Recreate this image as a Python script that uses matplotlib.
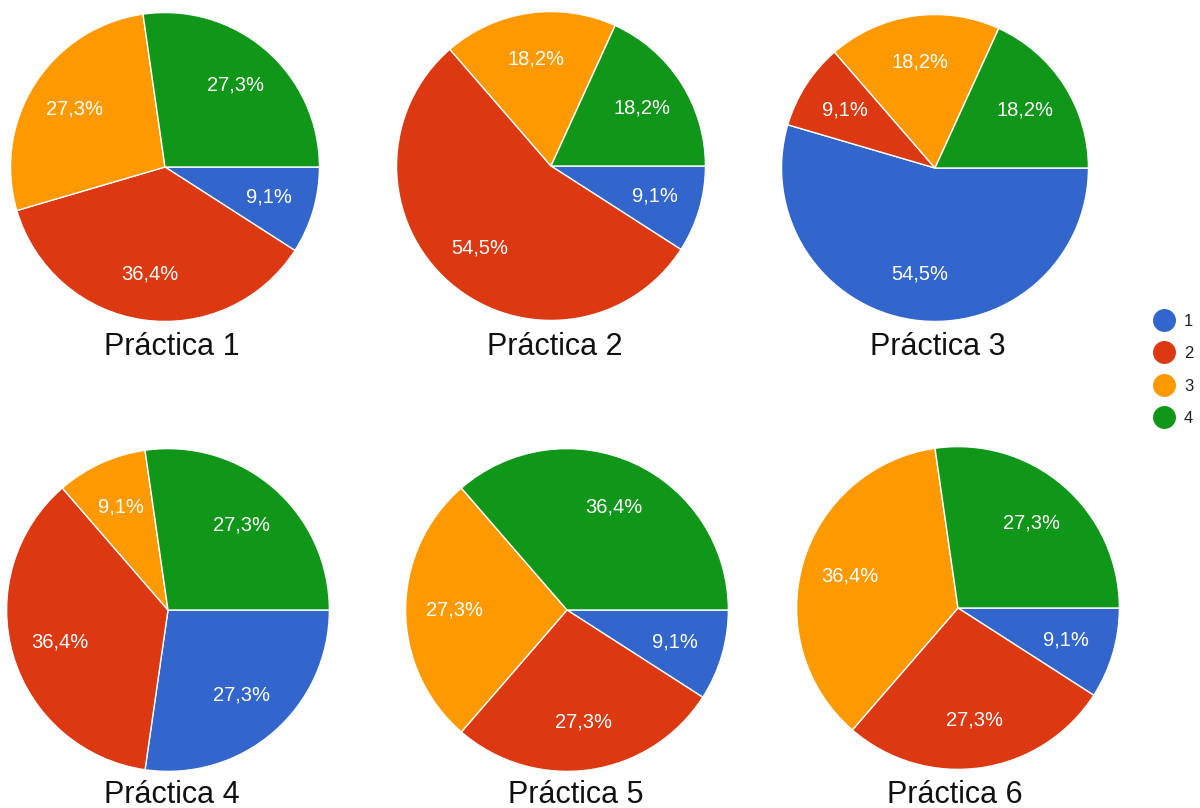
import matplotlib.pyplot as plt
from matplotlib.lines import Line2D

plt.rcParams['font.family'] = ['Liberation Sans', 'DejaVu Sans']

# Respuestas por práctica (11 alumnos), categorías 1-4
categorias = ['1', '2', '3', '4']
practica_1 = [1, 4, 3, 3]
practica_2 = [1, 6, 2, 2]
practica_3 = [6, 1, 2, 2]
practica_4 = [3, 4, 1, 3]
practica_5 = [1, 3, 3, 4]
practica_6 = [1, 3, 4, 3]
titulos = ['Práctica 1', 'Práctica 2', 'Práctica 3',
           'Práctica 4', 'Práctica 5', 'Práctica 6']
colores = ['#3366cc', '#dc3912', '#ff9900', '#109618']

W, H = 1200, 808
fig = plt.figure(figsize=(W / 100, H / 100), dpi=100)

# centro (x, y) y radio de cada tarta en píxeles, posición del título
pies = [
    (practica_1, (165, 167, 156), (172, 355)),
    (practica_2, (551, 166, 156), (555, 355)),
    (practica_3, (935, 168, 155), (938, 355)),
    (practica_4, (168, 610, 163), (172, 803)),
    (practica_5, (567, 610, 163), (576, 803)),
    (practica_6, (958, 608, 163), (955, 803)),
]


def etiqueta(p):
    return f'{p:.1f}%'.replace('.', ',')


for (datos, (cx, cy, r), (tx, ty)), titulo in zip(pies, titulos):
    ax = fig.add_axes([(cx - r) / W, 1 - (cy + r) / H, 2 * r / W, 2 * r / H])
    ax.pie(datos, colors=colores, startangle=0, counterclock=False,
           autopct=etiqueta, pctdistance=0.7,
           wedgeprops=dict(edgecolor='white', linewidth=1),
           textprops=dict(color='white', fontsize=14.5))
    ax.set_xlim(-1.01, 1.01)
    ax.set_ylim(-1.01, 1.01)
    ax.set_aspect('equal')
    ax.axis('off')
    fig.text(tx / W, 1 - ty / H, titulo, ha='center', va='baseline',
             fontsize=22, color='#111111')

# leyenda
handles = [Line2D([], [], marker='o', linestyle='', markersize=15.5,
                  markerfacecolor=c, markeredgecolor=c) for c in colores]
fig.legend(handles, categorias, loc='center left',
           bbox_to_anchor=(1143 / W, 1 - 370 / H), frameon=False,
           fontsize=12, labelspacing=1.05, handletextpad=0.45,
           handlelength=1.5, borderpad=0, labelcolor='#222222')

fig.savefig('out.png', dpi=100)
